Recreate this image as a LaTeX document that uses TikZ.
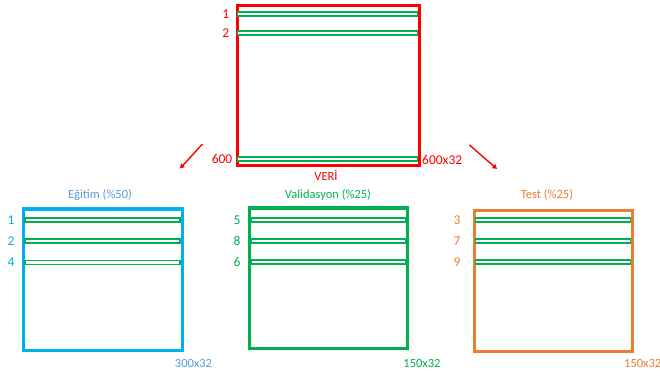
\documentclass[tikz,border=0pt]{standalone}
\usepackage{fontspec}
\setmainfont{Carlito}
\usetikzlibrary{arrows.meta}
\definecolor{cred}{HTML}{FF0000}
\definecolor{cgreen}{HTML}{00B050}
\definecolor{ccyan}{HTML}{00B0F0}
\definecolor{cblue}{HTML}{5B9BD5}
\definecolor{corange}{HTML}{ED7D31}
\tikzset{
  setbox/.style={draw=#1, line width=3pt, inner sep=0pt, anchor=north west, fill=white},
  row/.style={draw=cgreen, line width=1.8pt, inner sep=0pt, anchor=west, minimum height=4pt, fill=white},
  idx/.style={text=#1, font=\fontsize{13.5}{15}\selectfont, inner sep=0pt},
  cap/.style={text=#1, font=\fontsize{12.5}{14}\selectfont, inner sep=0pt},
  split/.style={draw=cred, line width=1.4pt, -{Triangle[length=4.5pt,width=5pt]}}
}
\begin{document}
\begin{tikzpicture}[x=1pt,y=-1pt]
\useasboundingbox (0,0) rectangle (660,379);

% full data set
\node[setbox=cred, minimum width=182pt, minimum height=160pt] (veri) at (235.5,4.5) {};
\node[row, minimum width=180pt] (v1) at (236.5,14) {};
\node[row, minimum width=180pt] (v2) at (236.5,33) {};
\node[row, minimum width=180pt] (v600) at (236.5,159) {};
\node[idx=cred, anchor=east] (lv1) at (229.5,14) {1};
\node[idx=cred, anchor=east] (lv2) at (229.5,33) {2};
\node[idx=cred, anchor=east] (lv600) at (232.5,159) {600};
\node[cap=cred, anchor=west, font=\fontsize{13.5}{15}\selectfont] (vdim) at (422,160) {600x32};
\node[cap=cred] (vname) at (326,175.5) {VERİ};

% split arrows
\coordinate (al1) at (202.5,144);
\coordinate (al2) at (180,168.5);
\coordinate (ar1) at (469.5,145);
\coordinate (ar2) at (497,169);
\draw[split] (al1) -- (al2);
\draw[split] (ar1) -- (ar2);

% training set
\node[setbox=ccyan, minimum width=159pt, minimum height=141pt] (egitim) at (22,207.5) {};
\node[row, minimum width=155pt] (e1) at (24,220) {};
\node[row, minimum width=155pt] (e2) at (24,241) {};
\node[row, minimum width=155pt] (e3) at (24,262.5) {};
\node[idx=ccyan] (le1) at (11,220) {1};
\node[idx=ccyan] (le2) at (11,241) {2};
\node[idx=ccyan] (le3) at (11,262.5) {4};
\node[cap=cblue] (ename) at (100,195) {Eğitim (\%50)};
\node[cap=cblue] (edim) at (193.5,363) {300x32};

% validation set
\node[setbox=cgreen, minimum width=158pt, minimum height=140pt] (valid) at (247.5,206.5) {};
\node[row, minimum width=155pt] (va1) at (250,220) {};
\node[row, minimum width=155pt] (va2) at (250,241) {};
\node[row, minimum width=155pt] (va3) at (250,262) {};
\node[idx=cgreen] (lva1) at (237,220) {5};
\node[idx=cgreen] (lva2) at (237,241) {8};
\node[idx=cgreen] (lva3) at (237,262) {6};
\node[cap=cgreen] (vaname) at (328,195) {Validasyon (\%25)};
\node[cap=cgreen] (vadim) at (422,363) {150x32};

% test set
\node[setbox=corange, minimum width=158pt, minimum height=141pt] (test) at (472.5,209) {};
\node[row, minimum width=155pt] (t1) at (474.5,220) {};
\node[row, minimum width=155pt] (t2) at (474.5,241) {};
\node[row, minimum width=155pt] (t3) at (474.5,262) {};
\node[idx=corange] (lt1) at (457,220) {3};
\node[idx=corange] (lt2) at (457,241) {7};
\node[idx=corange] (lt3) at (457,262) {9};
\node[cap=corange] (tname) at (547,195) {Test (\%25)};
\node[cap=corange, anchor=west] (tdim) at (624,363) {150x32};
\end{tikzpicture}
\end{document}
